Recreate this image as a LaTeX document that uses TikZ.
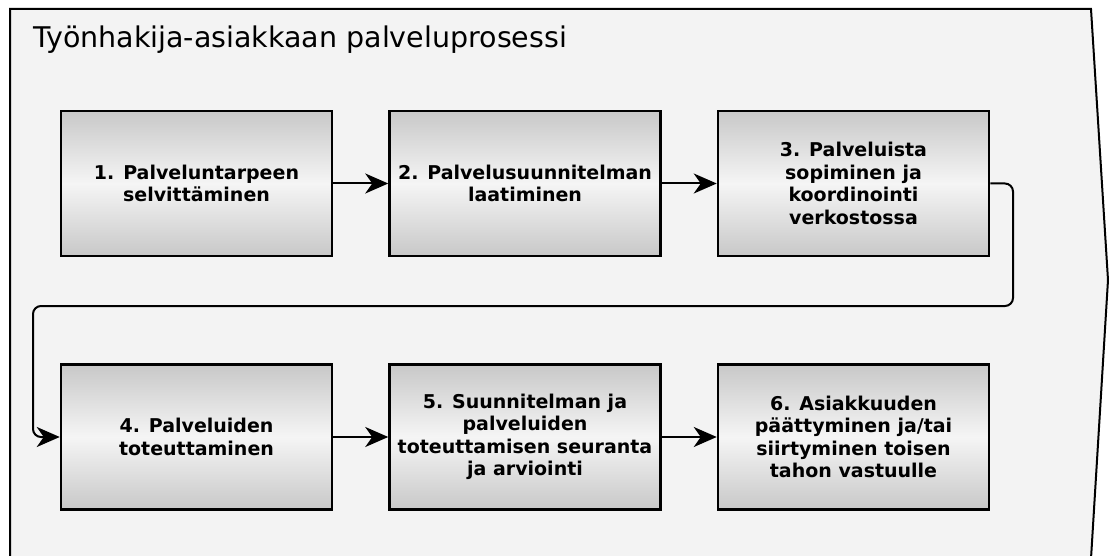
\documentclass[tikz,border=0pt]{standalone}
\usepackage{fontspec}
\setmainfont{DejaVu Sans}
\usepackage{tikz}
\usetikzlibrary{positioning,arrows.meta}
\definecolor{procbg}{HTML}{F3F3F3}
\definecolor{stepgray}{HTML}{C8C8C8}
\definecolor{stepmid}{HTML}{F5F5F5}

\begin{document}
\begin{tikzpicture}[
    x = 1pt, y = -1pt,
    > = {Stealth[length=23pt, width=20pt, inset=7pt]},
    node distance = 106pt and 55pt,
    phase/.style={draw, line width=2.5pt, minimum width=271pt, minimum height=145pt,
        inner sep=0pt, align=center, font=\bfseries\fontsize{19}{22.5}\selectfont,
        top color=stepgray, bottom color=stepgray, middle color=stepmid},
    flow/.style={->, line width=2pt, rounded corners=8pt}
]
    \useasboundingbox (0,0) rectangle (1109,556);
    \draw[line width=2pt, fill=procbg]
        (10,9) -- (1091,9) -- (1108,280) -- (1090,575) -- (10,575) -- cycle;
    \node[anchor=base west, inner sep=0pt, font=\fontsize{28.5}{32}\selectfont]
        (title) at (33,48) {Työnhakija-asiakkaan palveluprosessi};

    \node[phase] (s1) at (196.5,183.5) {1. Palveluntarpeen\\selvittäminen};
    \node[phase, right=of s1] (s2) {2. Palvelusuunnitelman\\laatiminen};
    \node[phase, right=of s2] (s3) {3. Palveluista\\sopiminen ja\\koordinointi\\verkostossa};
    \node[phase, below=of s1] (s4) {4. Palveluiden\\toteuttaminen};
    \node[phase, right=of s4] (s5) {5. Suunnitelman ja\\palveluiden\\toteuttamisen seuranta\\ja arviointi};
    \node[phase, right=of s5] (s6) {6. Asiakkuuden\\päättyminen ja/tai\\siirtyminen toisen\\tahon vastuulle};

    \coordinate (wrapR) at (1013,306);
    \coordinate (wrapL) at (33,306);

    \draw[flow] (s1) -- (s2);
    \draw[flow] (s2) -- (s3);
    \draw[flow] (s3.east) -| (wrapR) -- (wrapL) |- (s4.west);
    \draw[flow] (s4) -- (s5);
    \draw[flow] (s5) -- (s6);
\end{tikzpicture}
\end{document}
